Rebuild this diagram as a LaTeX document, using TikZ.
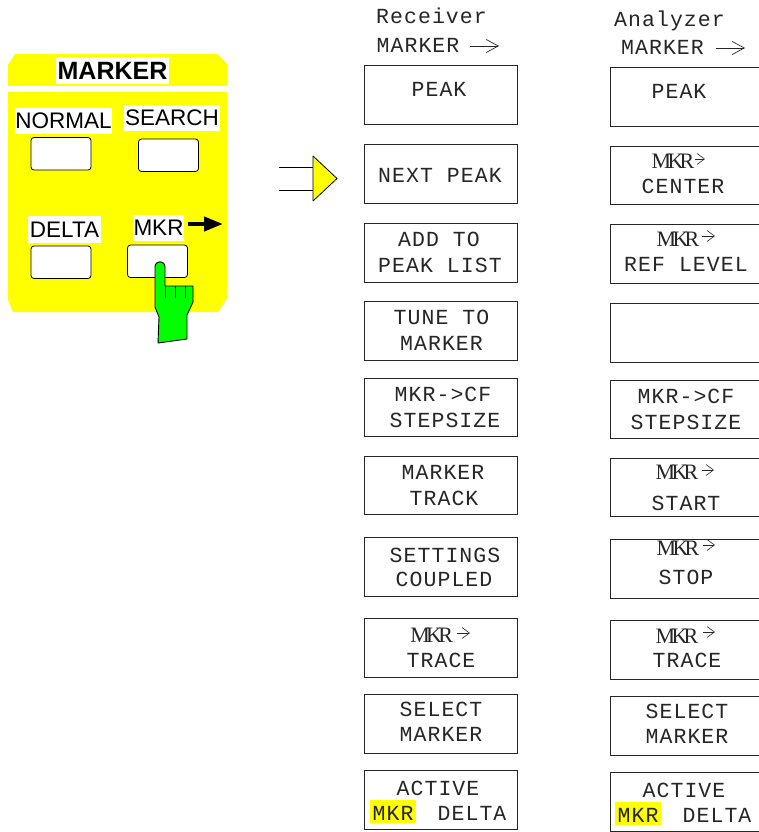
\documentclass[tikz,border=0pt]{standalone}
\usepackage{fontspec}
\setmainfont{Liberation Sans}
\newfontfamily\keyfont[LetterSpace=5]{Liberation Mono}
\newfontfamily\mkrfont[LetterSpace=-17]{Liberation Serif}
\definecolor{panelyellow}{HTML}{FFFF00}
\definecolor{handgreen}{HTML}{00FF00}
\usetikzlibrary{arrows.meta}
\tikzset{
  x=1pt,y=-1pt,
  softkey/.style={draw=black!85,line width=0.9pt,fill=white,rectangle,inner sep=0pt,outer sep=0pt,anchor=north west},
  keytext/.style={anchor=base,inner sep=0pt,font=\fontsize{21.5}{24}\keyfont,text=black!85},
  mkrtext/.style={anchor=base,inner sep=0pt,font=\fontsize{22}{24}\mkrfont,text=black!85},
  paneltext/.style={fill=white,inner sep=0pt,text=black,font=\fontsize{22.5}{25}\selectfont,minimum height=26pt},
  hardkey/.style={draw=black,line width=0.8pt,fill=white,rounded corners=3pt,inner sep=0pt,outer sep=0pt,minimum width=60pt,minimum height=32.5pt,anchor=north west},
  thinarrow/.style={draw=black!85,line width=0.7pt,-{Straight Barb[length=12pt,width=13pt]}},
  smallarrow/.style={draw=black!85,line width=0.6pt,-{Straight Barb[length=7.5pt,width=11pt]}}
}
\newcommand{\softbox}[5]{\node[softkey,minimum width=#4pt,minimum height=#5pt] (#1) at (#2,#3) {};}
\begin{document}
\begin{tikzpicture}
\useasboundingbox (0,0) rectangle (759,832);
\clip (0,0) rectangle (759,832);
% panel
\fill[panelyellow] (15,54) -- (218,54) -- (227,64) -- (227,86) -- (8,86) -- (8,65) -- cycle;
\fill[panelyellow] (8,92) -- (227,92) -- (227,298) -- (218,312) -- (13,312) -- (8,300) -- cycle;
\node[paneltext,font=\fontsize{25}{27}\selectfont\bfseries,minimum width=113pt,minimum height=27pt] (title) at (112.5,70.5) {MARKER};
\node[paneltext,minimum width=97pt] (lnormal) at (63.5,121) {NORMAL};
\node[paneltext,minimum width=96pt] (lsearch) at (172,118) {SEARCH};
\node[paneltext,minimum width=73pt,minimum height=27pt] (ldelta) at (64.5,229.5) {DELTA};
\node[paneltext,minimum width=51pt] (lmkr) at (158.5,228) {MKR};
\coordinate (mkrtail) at (188,224);
\coordinate (mkrtip) at (223,224);
\draw[line width=4pt,-{Triangle[length=19pt,width=14pt]}] (mkrtail) -- (mkrtip);
\node[hardkey] (knormal) at (31,137.5) {};
\node[hardkey] (ksearch) at (138.5,139) {};
\node[hardkey] (kdelta) at (31,246) {};
\node[hardkey] (kmkr) at (127.5,245) {};
% hand
\draw[fill=handgreen,line width=0.9pt,line join=round] (155,267) .. controls (155,260) and (165,260) .. (165,267) -- (165,286) -- (193,286) -- (193,302) -- (187,315) -- (187,339) -- (158,343) -- (159,317) -- (155,307) -- cycle;
\draw[line width=0.9pt] (165,286) -- (165,298) (175,286) -- (175,298) (185,286) -- (185,298);
% big arrow
\coordinate (a1) at (279,167); \coordinate (a2) at (279,190);
\coordinate (b1) at (313,167); \coordinate (b2) at (313,190);
\draw[line width=0.8pt] (a1) -- (b1) (a2) -- (b2);
\draw[fill=panelyellow,line width=0.8pt,line join=round] (313,156) -- (337,178.5) -- (313,201) -- cycle;
% headers
\node[keytext] (hrecv) at (431.5,24) {Receiver};
\node[keytext] (hrmark) at (418,53) {MARKER};
\coordinate (ra1) at (470,46); \coordinate (ra2) at (499,46);
\draw[thinarrow] (ra1) -- (ra2);
\node[keytext] (hanal) at (669.5,27) {Analyzer};
\node[keytext] (hamark) at (662.5,55) {MARKER};
\coordinate (aa1) at (716,48); \coordinate (aa2) at (745,48);
\draw[thinarrow] (aa1) -- (aa2);
% receiver boxes
\softbox{r1}{364.5}{65.5}{153}{58.5}
\softbox{r2}{364.5}{144.5}{153}{58.5}
\softbox{r3}{364.5}{223.3}{153}{59}
\softbox{r4}{364.5}{301.3}{153}{58.7}
\softbox{r5}{364.5}{378.3}{153}{58}
\softbox{r6}{364.5}{456.3}{153}{58.5}
\softbox{r7}{364.5}{537.5}{153}{59}
\softbox{r8}{364.5}{618.3}{153}{59}
\softbox{r9}{364.5}{694.5}{153}{58.5}
\softbox{r10}{364.5}{770.5}{153}{58.5}
% analyzer boxes
\softbox{s1}{610.5}{67.5}{155}{58.5}
\softbox{s2}{610.5}{146.3}{155}{58.5}
\softbox{s3}{610.5}{224.5}{155}{59}
\softbox{s4}{610.5}{303}{155}{59}
\softbox{s5}{610.5}{380}{155}{58}
\softbox{s6}{610.5}{458.3}{155}{58}
\softbox{s7}{610.5}{539.3}{155}{58.7}
\softbox{s8}{610.5}{620}{155}{59}
\softbox{s9}{610.5}{696.5}{155}{58.5}
\softbox{s10}{610.5}{772.5}{155}{58.5}
% yellow highlights
\node[fill=panelyellow,inner sep=0pt,minimum width=46pt,minimum height=23pt] (ry) at (393,811.5) {};
\node[fill=panelyellow,inner sep=0pt,minimum width=46pt,minimum height=23pt] (sy) at (638,813.5) {};
% receiver texts
\node[keytext] (t1) at (439,97) {PEAK};
\node[keytext] (t2) at (440,182) {NEXT PEAK};
\node[keytext] (t3a) at (439,246) {ADD TO};
\node[keytext] (t3b) at (440,272) {PEAK LIST};
\node[keytext] (t4a) at (441.5,324) {TUNE TO};
\node[keytext] (t4b) at (441.5,350) {MARKER};
\node[keytext] (t5a) at (443,401) {MKR->CF};
\node[keytext] (t5b) at (445,427) {STEPSIZE};
\node[keytext] (t6a) at (443,479) {MARKER};
\node[keytext] (t6b) at (444,505) {TRACK};
\node[keytext] (t7a) at (445,562) {SETTINGS};
\node[keytext] (t7b) at (444,586.5) {COUPLED};
\node[mkrtext] (t8a) at (431.7,642) {MKR};
\coordinate (t8l) at (457,633); \coordinate (t8r) at (470,633);
\draw[smallarrow] (t8l) -- (t8r);
\node[keytext] (t8b) at (441,667) {TRACE};
\node[keytext] (t9a) at (441,716) {SELECT};
\node[keytext] (t9b) at (441,741) {MARKER};
\node[keytext] (t10a) at (438,795) {ACTIVE};
\node[keytext] (t10b) at (393,820) {MKR};
\node[keytext] (t10c) at (472,820) {DELTA};
% analyzer texts
\node[keytext] (u1) at (679,99) {PEAK};
\node[mkrtext] (u2a) at (673,168) {MKR};
\coordinate (u2l) at (695,159); \coordinate (u2r) at (705,159);
\draw[smallarrow] (u2l) -- (u2r);
\node[keytext] (u2b) at (683,193) {CENTER};
\node[mkrtext] (u3a) at (678,246) {MKR};
\coordinate (u3l) at (702,236); \coordinate (u3r) at (715,236);
\draw[smallarrow] (u3l) -- (u3r);
\node[keytext] (u3b) at (686,271) {REF LEVEL};
\node[keytext] (u5a) at (686,403) {MKR->CF};
\node[keytext] (u5b) at (686,429) {STEPSIZE};
\node[mkrtext] (u6a) at (677,479) {MKR};
\coordinate (u6l) at (702,470); \coordinate (u6r) at (714,470);
\draw[smallarrow] (u6l) -- (u6r);
\node[keytext] (u6b) at (686,510) {START};
\node[mkrtext] (u7a) at (678,555) {MKR};
\coordinate (u7l) at (703,545); \coordinate (u7r) at (715,545);
\draw[smallarrow] (u7l) -- (u7r);
\node[keytext] (u7b) at (686,584) {STOP};
\node[mkrtext] (u8a) at (677,643) {MKR};
\coordinate (u8l) at (703,632); \coordinate (u8r) at (715,632);
\draw[smallarrow] (u8l) -- (u8r);
\node[keytext] (u8b) at (687,667) {TRACE};
\node[keytext] (u9a) at (687,718) {SELECT};
\node[keytext] (u9b) at (687,743) {MARKER};
\node[keytext] (u10a) at (684,797) {ACTIVE};
\node[keytext] (u10b) at (638,822) {MKR};
\node[keytext] (u10c) at (717,822) {DELTA};
\end{tikzpicture}
\end{document}
